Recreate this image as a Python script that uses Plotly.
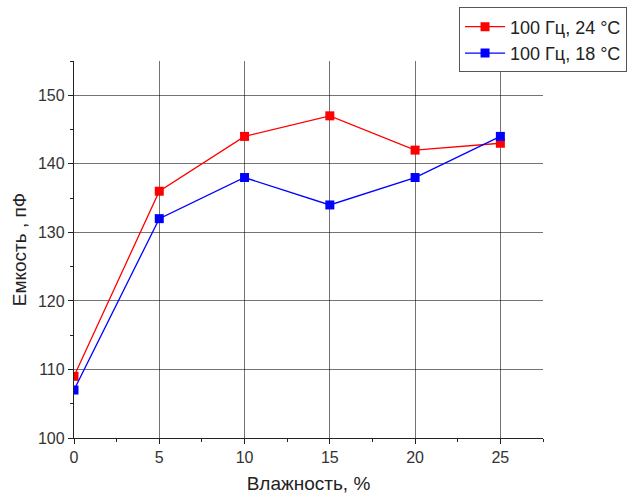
import plotly.graph_objects as go

# Humidity (%) and capacitance (pF) at 100 Hz
humidity = [0, 5, 10, 15, 20, 25]
cap_24c = [109, 136, 144, 147, 142, 143]
cap_18c = [107, 132, 138, 134, 138, 144]
series_names = ["100 Гц, 24 °C", "100 Гц, 18 °C"]
x_ticks = [0, 5, 10, 15, 20, 25]
y_ticks = [100, 110, 120, 130, 140, 150]

fig = go.Figure()
for vals, name, color in [(cap_24c, series_names[0], "#ff0000"),
                          (cap_18c, series_names[1], "#0000ff")]:
    fig.add_trace(go.Scatter(
        x=humidity, y=vals, name=name, mode="lines+markers",
        line=dict(color=color, width=1.3),
        marker=dict(symbol="square", size=9, color=color),
    ))

axis_common = dict(
    showline=True, linecolor="#222", linewidth=1.3,
    ticks="outside", ticklen=5, tickwidth=1.3, tickcolor="#222",
    showgrid=True, gridcolor="rgba(0,0,0,0.55)", gridwidth=1,
    zeroline=False, mirror=False,
    tickfont=dict(family="Liberation Sans, Arial", size=16, color="#333"),
    minor=dict(ticks="outside", ticklen=3, tickwidth=1.3, tickcolor="#222", showgrid=False),
)

fig.update_layout(
    width=634, height=499,
    margin=dict(l=74, r=91, t=61, b=61, autoexpand=False),
    paper_bgcolor="white", plot_bgcolor="white",
    font=dict(family="Liberation Sans, Arial", color="#222"),
    xaxis=dict(range=[0, 27.5], tickvals=x_ticks, minor_dtick=2.5,
               title=dict(text="Влажность, %", font=dict(size=19, color="#222"), standoff=11),
               **axis_common),
    yaxis=dict(range=[100, 155], tickvals=y_ticks, minor_dtick=5,
               title=dict(text="Емкость , пФ", font=dict(size=19, color="#222"), standoff=6),
               **axis_common),
    legend=dict(x=0.821, y=1.142, xanchor="left", yanchor="top",
                bordercolor="#555", borderwidth=1, bgcolor="white",
                font=dict(family="Liberation Sans, Arial", size=18, color="#222"),
                tracegroupgap=0, itemwidth=40),
    showlegend=True,
)

fig.write_html("out.html")
